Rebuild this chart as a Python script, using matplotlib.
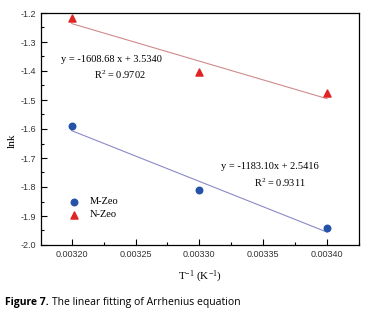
import matplotlib
matplotlib.use("Agg")
import matplotlib.pyplot as plt
import numpy as np
from matplotlib.ticker import MultipleLocator, FormatStrFormatter

# 1/T (K^-1) and ln k
inv_t = [0.00320, 0.00330, 0.00340]
lnk_m = [-1.590, -1.812, -1.940]
lnk_n = [-1.218, -1.403, -1.477]

eq_m = ["y = -1183.10x + 2.5416", "R$^2$ = 0.9311"]
eq_n = ["y = -1608.68 x + 3.5340", "R$^2$ = 0.9702"]

serif = "Liberation Serif"
sans = "Liberation Sans"

plt.rcParams["mathtext.fontset"] = "custom"
plt.rcParams["mathtext.rm"] = serif
plt.rcParams["mathtext.it"] = serif + ":italic"

fig = plt.figure(figsize=(3.69, 3.15), dpi=100)
ax = fig.add_axes([41 / 369, 1 - 245 / 315, 318 / 369, 232 / 315])

# linear fits drawn between the first and last points
x = np.asarray(inv_t)
for y, line_c in [(lnk_m, "#8a8ac8"), (lnk_n, "#d08a8a")]:
    k, b = np.polyfit(x, y, 1)
    ax.plot(x, k * x + b, color=line_c, linewidth=0.8, zorder=1)

ax.scatter(inv_t, lnk_m, marker="o", s=22, color="#2452a8", zorder=3, label="M-Zeo")
ax.scatter(inv_t, lnk_n, marker="^", s=26, color="#e02424", zorder=3, label="N-Zeo")

ax.set_xlim(0.003176, 0.003425)
ax.set_ylim(-2.0, -1.2)
ax.xaxis.set_major_locator(MultipleLocator(0.00005))
ax.xaxis.set_minor_locator(MultipleLocator(0.000025))
ax.xaxis.set_major_formatter(FormatStrFormatter("%.5f"))
ax.yaxis.set_major_locator(MultipleLocator(0.1))
ax.yaxis.set_minor_locator(MultipleLocator(0.05))
ax.yaxis.set_major_formatter(FormatStrFormatter("%.1f"))
ax.tick_params(which="both", direction="in", labelsize=6.5, labelcolor="#333333",
               top=False, right=False)
ax.tick_params(which="major", length=4, width=0.8)
ax.tick_params(which="minor", length=2, width=0.8)
for lab in ax.get_xticklabels() + ax.get_yticklabels():
    lab.set_family(sans)
for s in ax.spines.values():
    s.set_linewidth(0.9)

ax.set_xlabel("T$^{\\mathrm{-1}}$ (K$^{\\mathrm{-1}}$)", family=serif, fontsize=8, labelpad=7)
ax.set_ylabel("lnk", family=serif, fontsize=8)
ax.yaxis.set_label_coords(-0.075, 0.45)

tk = dict(family=serif, fontsize=7.5, ha="center", va="center")
ax.text(0.003231, -1.359, eq_n[0], **tk)
ax.text(0.003238, -1.414, eq_n[1], **tk)
ax.text(0.003355, -1.731, eq_m[0], **tk)
ax.text(0.003363, -1.786, eq_m[1], **tk)

ax.legend(loc="lower left", bbox_to_anchor=(0.04, 0.07), frameon=False,
          prop={"family": serif, "size": 7.5}, handletextpad=0.6,
          labelspacing=0.35, scatterpoints=1)

mt = dict(family="Open Sans", fontsize=7.5, va="center")
t1 = fig.text(5 / 369, 1 - 303 / 315, "Figure 7.", fontweight="bold", **mt)
fig.canvas.draw()
bb = t1.get_window_extent()
fig.text(bb.x1 / fig.bbox.width + 0.008, 1 - 303 / 315,
         "The linear fitting of Arrhenius equation", **mt)

fig.savefig("out.png", dpi=100)
